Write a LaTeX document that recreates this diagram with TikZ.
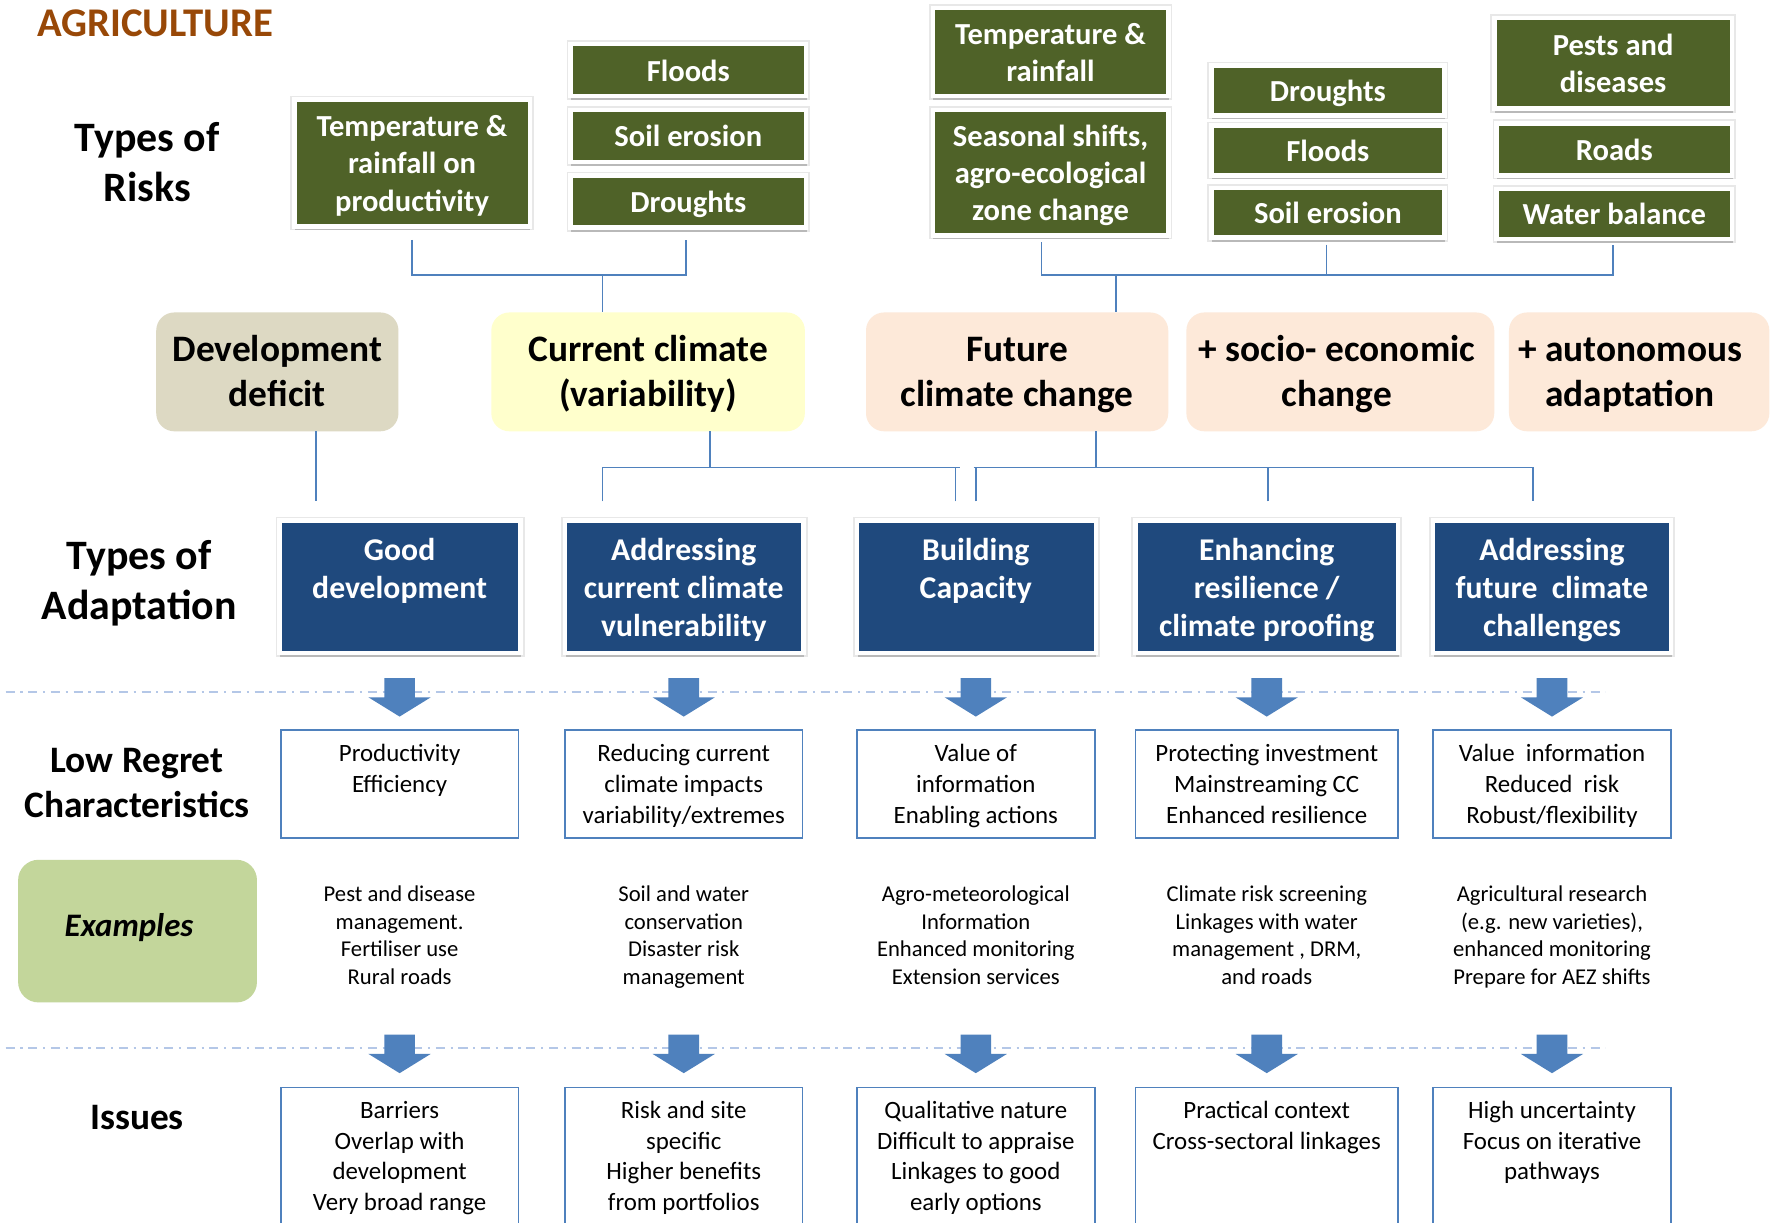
\documentclass[tikz,border=0pt]{standalone}
\usepackage{fontspec}
\setmainfont{Carlito}
\usetikzlibrary{shadows,calc}
\definecolor{grnc}{HTML}{4F6228}
\definecolor{navyc}{HTML}{1F497D}
\definecolor{connc}{HTML}{4F81BD}
\definecolor{devc}{HTML}{DDD9C3}
\definecolor{curc}{HTML}{FFFFCC}
\definecolor{futc}{HTML}{FDE9D9}
\definecolor{exc}{HTML}{C3D69B}
\definecolor{ttlc}{HTML}{984807}
\definecolor{dashc}{HTML}{B4C7E7}
\newcommand\BlkArrow[1]{\fill[connc] (#1) +(-13.5,0) -- +(13.5,0) -- +(13.5,17) -- +(27.5,17) -- +(0,34) -- +(-27.5,17) -- +(-13.5,17) -- cycle;}
\newcommand\GStr{\rule{0pt}{29pt}}
\newcommand\RStr{\rule{0pt}{34pt}}
\begin{document}
\begin{tikzpicture}[x=1pt,y=-1pt,
  conn/.style={draw=connc, line width=1.3pt},
  dline/.style={draw=dashc, line width=1.5pt, dash pattern=on 8pt off 5pt on 2pt off 5pt},
  framed/.style={draw=white, line width=4pt, preaction={draw=black!9, line width=7pt}, drop shadow={shadow xshift=0.6pt,shadow yshift=-3.5pt,opacity=0.2,fill=black}},
  gbox/.style={framed, fill=grnc, text=white, font=\bfseries\fontsize{27}{33}\selectfont, align=center, inner sep=0pt},
  bbox/.style={framed, fill=navyc, minimum height=117pt, inner sep=0pt},
  btext/.style={text=white, font=\bfseries\fontsize{28}{33.5}\selectfont, align=center, anchor=north, inner sep=0pt},
  rbox/.style={rounded corners=16pt, minimum height=105pt, font=\bfseries\fontsize{33}{40}\selectfont, align=center, inner sep=0pt},
  lbox/.style={draw=connc, line width=1.5pt, minimum height=95pt, inner sep=0pt},
  ibox/.style={draw=connc, line width=1.5pt, minimum height=200pt, anchor=north, inner sep=0pt},
  ltext/.style={font=\fontsize{22}{27}\selectfont, align=center, anchor=north, inner sep=0pt},
  etext/.style={font=\fontsize{20}{24.5}\selectfont, align=center, anchor=north, inner sep=0pt},
  lab/.style={font=\bfseries\fontsize{37}{44}\selectfont, align=center, inner sep=0pt},
  labs/.style={font=\bfseries\fontsize{33}{40}\selectfont, align=center, inner sep=0pt}
]
\useasboundingbox (0,0) rectangle (1568,1080);
\clip (0,0) rectangle (1568,1080);
\fill[white] (0,0) rectangle (1568,1080);

% title and row labels
\node[font=\bfseries\fontsize{36}{40}\selectfont, text=ttlc, inner sep=0pt] (title) at (137,21) {AGRICULTURE};
\node[lab] (trisk) at (130,143.5) {Types of\\Risks};
\node[lab] (tadapt) at (123,515.5) {Types of\\Adaptation};
\node[labs] (tlow) at (121,691.5) {Low Regret\\Characteristics};
\node[labs] (tiss) at (121,987) {Issues};

% risk boxes, left group
\node[gbox, minimum width=208pt, minimum height=112pt] (g1) at (364,144) {\GStr Temperature \&\\rainfall on\\productivity\strut};
\node[gbox, minimum width=208pt, minimum height=46pt] (g2) at (608,62) {\GStr Floods\strut};
\node[gbox, minimum width=208pt, minimum height=46pt] (g3) at (608,120) {\GStr Soil erosion\strut};
\node[gbox, minimum width=208pt, minimum height=46pt] (g4) at (608,178) {\GStr Droughts\strut};
% risk boxes, right group
\node[gbox, minimum width=208pt, minimum height=78pt] (g5) at (928,46) {\GStr Temperature \&\\rainfall\strut};
\node[gbox, minimum width=208pt, minimum height=111pt] (g6) at (928,152.5) {\GStr Seasonal shifts,\\agro-ecological\\zone change\strut};
\node[gbox, minimum width=206pt, minimum height=44pt] (g7) at (1173,80) {\GStr Droughts\strut};
\node[gbox, minimum width=206pt, minimum height=44pt] (g8) at (1173,133) {\GStr Floods\strut};
\node[gbox, minimum width=206pt, minimum height=44pt] (g9) at (1173,188) {\GStr Soil erosion\strut};
\node[gbox, minimum width=210pt, minimum height=80pt] (g10) at (1425,56) {\GStr Pests and\\diseases\strut};
\node[gbox, minimum width=208pt, minimum height=46pt] (g11) at (1426,132) {\GStr Roads\strut};
\node[gbox, minimum width=208pt, minimum height=44pt] (g12) at (1426,189) {\GStr Water balance\strut};

% rounded boxes
\node[rbox, fill=devc, minimum width=214pt] (r1) at (245,328.5) {\RStr Development\\deficit\strut};
\node[rbox, fill=curc, minimum width=277pt] (r2) at (572.5,328.5) {\RStr Current climate\\(variability)\strut};
\node[rbox, fill=futc, minimum width=267pt] (r3) at (898.5,328.5) {\RStr Future\\climate change\strut};
\node[rbox, fill=futc, minimum width=272pt] (r4) at (1184,328.5) {\RStr + socio- economic\hspace{6pt}\strut\\change\hspace{6pt}\strut};
\node[rbox, fill=futc, minimum width=230pt] (r5) at (1448,328.5) {\RStr + autonomous\hspace{16pt}\strut\\adaptation\hspace{16pt}\strut};

% top connectors
\coordinate (tl1) at (364,212);
\coordinate (tl2) at (606,212);
\coordinate (tlj) at (532,243);
\draw[conn] (tl1) -- (tl1 |- tlj) -- (tl2 |- tlj) -- (tl2);
\draw[conn] (tlj) -- (tlj |- r2.north);
\coordinate (tr1) at (920,214);
\coordinate (tr2) at (1172,216);
\coordinate (tr3) at (1425,216);
\coordinate (trj) at (986,243);
\draw[conn] (tr1) -- (tr1 |- trj) -- (tr3 |- trj) -- (tr3);
\draw[conn] (tr2) -- (tr2 |- trj);
\draw[conn] (trj) -- (trj |- r3.north);

% middle connectors
\coordinate (m1t) at (279,381);
\coordinate (m1b) at (279,443);
\draw[conn] (m1t) -- (m1b);
\coordinate (m2t) at (627,381);
\coordinate (m2j) at (627,413);
\coordinate (m2l) at (532,443);
\coordinate (m2e) at (848,413);
\coordinate (m2r) at (844,443);
\draw[conn] (m2t) -- (m2j);
\draw[conn] (m2l) -- (m2l |- m2j) -- (m2e);
\draw[conn] (m2r) -- (m2r |- m2e);
\coordinate (m3t) at (968,381);
\coordinate (m3j) at (968,413);
\coordinate (m3s) at (860,413);
\coordinate (m3a) at (862,443);
\coordinate (m3b) at (1120,443);
\coordinate (m3c) at (1354,443);
\draw[conn] (m3t) -- (m3j);
\draw[conn] (m3s) -- (m3c |- m3j) -- (m3c);
\draw[conn] (m3a) -- (m3a |- m3j);
\draw[conn] (m3b) -- (m3b |- m3j);

% adaptation boxes
\node[bbox, minimum width=213pt] (b1) at (353.5,518.5) {};
\node[bbox, minimum width=211pt] (b2) at (604.5,518.5) {};
\node[bbox, minimum width=211pt] (b3) at (862.5,518.5) {};
\node[bbox, minimum width=232pt] (b4) at (1119,518.5) {};
\node[bbox, minimum width=210pt] (b5) at (1371,518.5) {};
\node[btext] (bt1) at (353,471.5) {\strut Good\\development};
\node[btext] (bt2) at (604,471.5) {\strut Addressing\\current climate\\vulnerability};
\node[btext] (bt3) at (862,471.5) {\strut Building\\Capacity};
\node[btext] (bt4) at (1119,471.5) {\strut Enhancing\\resilience /\\climate proofing};
\node[btext] (bt5) at (1371,471.5) {\strut Addressing\\future\ \ climate\\challenges};

% dashed separators
\coordinate (d1a) at (5,611);
\coordinate (d1b) at (1418,611);
\draw[dline] (d1a) -- (d1b);
\coordinate (d2a) at (5,926);
\coordinate (d2b) at (1418,926);
\draw[dline] (d2a) -- (d2b);

% block arrows
\coordinate (a11) at (353,599);
\coordinate (a12) at (604,599);
\coordinate (a13) at (862,599);
\coordinate (a14) at (1119,599);
\coordinate (a15) at (1371,599);
\coordinate (a21) at (353,914);
\coordinate (a22) at (604,914);
\coordinate (a23) at (862,914);
\coordinate (a24) at (1119,914);
\coordinate (a25) at (1371,914);
\BlkArrow{a11}\BlkArrow{a12}\BlkArrow{a13}\BlkArrow{a14}\BlkArrow{a15}
\BlkArrow{a21}\BlkArrow{a22}\BlkArrow{a23}\BlkArrow{a24}\BlkArrow{a25}

% low regret boxes
\node[lbox, minimum width=210pt] (l1) at (353,692.5) {};
\node[lbox, minimum width=210pt] (l2) at (604,692.5) {};
\node[lbox, minimum width=210pt] (l3) at (862,692.5) {};
\node[lbox, minimum width=232pt] (l4) at (1119,692.5) {};
\node[lbox, minimum width=210pt] (l5) at (1371,692.5) {};
\node[ltext] (lt1) at (353,654) {\strut Productivity\\Efficiency};
\node[ltext] (lt2) at (604,654) {\strut Reducing current\\climate impacts\\variability/extremes};
\node[ltext] (lt3) at (862,654) {\strut Value of\\information\\Enabling actions};
\node[ltext] (lt4) at (1119,654) {\strut Protecting investment\\Mainstreaming CC\\Enhanced resilience};
\node[ltext] (lt5) at (1371,654) {\strut Value\ \ information\\Reduced\ \ risk\\Robust/flexibility};

% examples
\node[fill=exc, rounded corners=18pt, minimum width=211pt, minimum height=126pt, inner sep=0pt] (exbox) at (121.5,822.5) {};
\node[font=\bfseries\itshape\fontsize{29}{34}\selectfont, inner sep=0pt] (extxt) at (114,819) {Examples};
\node[etext] (e1) at (353,779) {\strut Pest and disease\\management.\\Fertiliser use\\Rural roads};
\node[etext] (e2) at (604,779) {\strut Soil and water\\conservation\\Disaster risk\\management};
\node[etext] (e3) at (862,779) {\strut Agro-meteorological\\Information\\Enhanced monitoring\\Extension services};
\node[etext] (e4) at (1119,779) {\strut Climate risk screening\\Linkages with water\\management , DRM,\\and roads};
\node[etext] (e5) at (1371,779) {\strut Agricultural research\\(e.g. new varieties),\\enhanced monitoring\\Prepare for AEZ shifts};

% issues boxes
\node[ibox, minimum width=210pt] (i1) at (353,960) {};
\node[ibox, minimum width=210pt] (i2) at (604,960) {};
\node[ibox, minimum width=210pt] (i3) at (862,960) {};
\node[ibox, minimum width=232pt] (i4) at (1119,960) {};
\node[ibox, minimum width=210pt] (i5) at (1371,960) {};
\node[ltext] (it1) at (353,969) {\strut Barriers\\Overlap with\\development\\Very broad range};
\node[ltext] (it2) at (604,969) {\strut Risk and site\\specific\\Higher benefits\\from portfolios};
\node[ltext] (it3) at (862,969) {\strut Qualitative nature\\Difficult to appraise\\Linkages to good\\early options};
\node[ltext] (it4) at (1119,969) {\strut Practical context\\Cross-sectoral linkages};
\node[ltext] (it5) at (1371,969) {\strut High uncertainty\\Focus on iterative\\pathways};
\end{tikzpicture}
\end{document}
